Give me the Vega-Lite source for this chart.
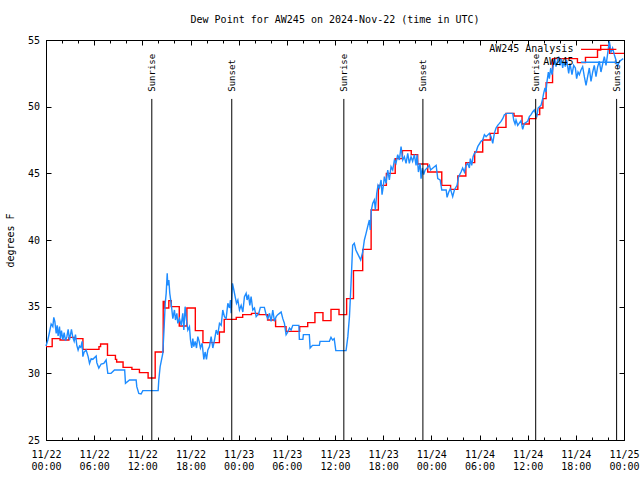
{
  "$schema": "https://vega.github.io/schema/vega-lite/v6.json",
  "width": 578,
  "height": 400,
  "autosize": "none",
  "padding": {"left": 46, "top": 40, "right": 16, "bottom": 40},
  "title": {"text": "Dew Point for AW245 on 2024-Nov-22 (time in UTC)", "offset": 10, "anchor": "middle"},
  "datasets": {
    "sun": [
      {"h": 13.18, "event": "Sunrise"}, {"h": 23.14, "event": "Sunset"},
      {"h": 37.1, "event": "Sunrise"}, {"h": 46.95, "event": "Sunset"},
      {"h": 61.0, "event": "Sunrise"}, {"h": 71.08, "event": "Sunset"}
    ],
    "analysis": [
      {"h":0,"v":32.0},{"h":0.77,"v":32.6},{"h":1.75,"v":32.5},{"h":2.85,"v":32.7},{"h":3.6,"v":32.6},
      {"h":4.6,"v":31.8},{"h":6.6,"v":32.0},{"h":6.8,"v":32.2},{"h":7.66,"v":31.35},{"h":8.65,"v":31.05},
      {"h":8.8,"v":30.85},{"h":9.6,"v":30.45},{"h":10.7,"v":30.3},{"h":11.64,"v":30.05},{"h":12.72,"v":29.65},
      {"h":13.6,"v":31.6},{"h":14.6,"v":35.4},{"h":14.75,"v":34.9},{"h":15.3,"v":35.45},{"h":15.6,"v":35.0},
      {"h":16.6,"v":33.55},{"h":17.55,"v":34.9},{"h":18.6,"v":33.2},{"h":19.55,"v":32.3},{"h":21.6,"v":33.1},
      {"h":22.2,"v":34.05},{"h":23.7,"v":34.2},{"h":24.5,"v":34.4},{"h":25.6,"v":34.5},{"h":26.5,"v":34.4},
      {"h":27.6,"v":34.0},{"h":28.6,"v":33.5},{"h":29.9,"v":33.15},{"h":31.6,"v":33.5},{"h":32.6,"v":33.8},
      {"h":33.5,"v":34.55},{"h":34.5,"v":33.95},{"h":35.5,"v":34.8},{"h":36.5,"v":34.4},{"h":37.45,"v":35.6},
      {"h":38.3,"v":37.7},{"h":39.45,"v":39.3},{"h":40.5,"v":42.25},{"h":41.4,"v":44.1},{"h":42.4,"v":45.0},
      {"h":43.5,"v":46.1},{"h":44.4,"v":46.7},{"h":45.5,"v":46.4},{"h":46.3,"v":45.7},{"h":47.55,"v":45.1},
      {"h":49.3,"v":44.1},{"h":50.4,"v":43.8},{"h":51.3,"v":44.8},{"h":52.3,"v":45.8},{"h":53.4,"v":46.6},
      {"h":54.4,"v":47.5},{"h":55.35,"v":48.0},{"h":56.3,"v":48.45},{"h":57.3,"v":49.5},{"h":58.3,"v":49.3},
      {"h":59.3,"v":48.7},{"h":60.2,"v":49.1},{"h":61.04,"v":49.4},{"h":61.5,"v":49.9},{"h":61.9,"v":50.6},
      {"h":62.3,"v":51.8},{"h":63.1,"v":53.6},{"h":66.2,"v":53.3},{"h":67.2,"v":53.7},{"h":68.7,"v":54.25},
      {"h":69.1,"v":54.6},{"h":70.2,"v":54.0},{"h":72,"v":54.0}
    ],
    "obs": [
      {"h":0,"v":32.05},{"h":0.23,"v":32.5},{"h":0.44,"v":33.1},{"h":0.64,"v":33.7},{"h":0.85,"v":33.5},
      {"h":0.97,"v":34.2},{"h":1.1,"v":33.9},{"h":1.27,"v":33.0},{"h":1.39,"v":33.6},{"h":1.51,"v":32.8},
      {"h":1.68,"v":33.5},{"h":1.8,"v":32.6},{"h":1.93,"v":33.2},{"h":2.1,"v":32.5},{"h":2.26,"v":33.05},
      {"h":2.43,"v":32.45},{"h":2.6,"v":32.75},{"h":2.76,"v":33.3},{"h":2.93,"v":32.5},{"h":3.17,"v":33.3},
      {"h":3.34,"v":32.7},{"h":3.51,"v":32.4},{"h":3.67,"v":32.9},{"h":3.84,"v":32.1},{"h":4.0,"v":31.75},
      {"h":4.17,"v":32.05},{"h":4.34,"v":31.95},{"h":4.5,"v":32.4},{"h":4.59,"v":31.25},{"h":4.75,"v":31.6},
      {"h":5.0,"v":31.75},{"h":5.25,"v":31.25},{"h":5.42,"v":30.75},{"h":5.63,"v":31.1},{"h":5.83,"v":31.05},
      {"h":6.25,"v":31.3},{"h":6.33,"v":30.8},{"h":6.58,"v":30.4},{"h":6.87,"v":30.7},{"h":7.2,"v":30.75},
      {"h":7.49,"v":31.0},{"h":7.7,"v":30.0},{"h":8.1,"v":30.0},{"h":8.53,"v":30.25},{"h":9.8,"v":30.25},
      {"h":9.9,"v":29.25},{"h":10.4,"v":29.5},{"h":11.23,"v":29.5},{"h":11.31,"v":29.0},{"h":11.56,"v":28.5},
      {"h":11.85,"v":28.45},{"h":12.06,"v":28.7},{"h":13.97,"v":28.7},{"h":14.05,"v":29.5},{"h":14.22,"v":30.5},
      {"h":14.55,"v":31.5},{"h":14.72,"v":33.5},{"h":14.85,"v":35.25},{"h":14.97,"v":36.0},{"h":15.1,"v":37.5},
      {"h":15.17,"v":36.6},{"h":15.3,"v":37.0},{"h":15.42,"v":36.0},{"h":15.59,"v":35.25},{"h":15.8,"v":34.1},
      {"h":16.0,"v":34.75},{"h":16.13,"v":34.0},{"h":16.3,"v":34.5},{"h":16.42,"v":33.75},{"h":16.63,"v":34.1},
      {"h":16.84,"v":33.6},{"h":17.04,"v":34.5},{"h":17.17,"v":33.25},{"h":17.33,"v":35.0},{"h":17.5,"v":34.0},
      {"h":17.67,"v":33.25},{"h":17.87,"v":33.5},{"h":18.0,"v":32.5},{"h":18.16,"v":31.9},{"h":18.29,"v":32.6},
      {"h":18.41,"v":32.0},{"h":18.58,"v":32.4},{"h":18.75,"v":31.9},{"h":18.91,"v":32.75},{"h":19.08,"v":32.4},
      {"h":19.24,"v":31.9},{"h":19.45,"v":32.25},{"h":19.66,"v":31.05},{"h":19.82,"v":31.6},{"h":19.99,"v":31.05},
      {"h":20.16,"v":31.75},{"h":20.36,"v":32.0},{"h":20.57,"v":32.75},{"h":20.78,"v":31.9},{"h":20.99,"v":32.5},
      {"h":21.2,"v":33.25},{"h":21.4,"v":32.9},{"h":21.61,"v":33.75},{"h":21.82,"v":33.6},{"h":22.02,"v":34.75},
      {"h":22.23,"v":34.25},{"h":22.44,"v":34.1},{"h":22.65,"v":35.25},{"h":22.85,"v":34.9},{"h":22.98,"v":35.5},
      {"h":23.06,"v":34.5},{"h":23.23,"v":36.75},{"h":23.4,"v":36.25},{"h":23.56,"v":35.75},{"h":23.73,"v":35.25},
      {"h":23.9,"v":35.5},{"h":24.1,"v":34.75},{"h":24.31,"v":35.1},{"h":24.52,"v":34.6},{"h":24.72,"v":35.75},
      {"h":24.93,"v":36.0},{"h":25.05,"v":35.5},{"h":25.22,"v":35.9},{"h":25.39,"v":35.1},{"h":25.55,"v":35.75},
      {"h":25.76,"v":34.75},{"h":25.97,"v":34.9},{"h":26.18,"v":34.25},{"h":26.5,"v":34.5},{"h":26.7,"v":34.95},
      {"h":27.2,"v":34.95},{"h":27.42,"v":34.4},{"h":27.63,"v":34.1},{"h":27.84,"v":34.5},{"h":28.04,"v":33.9},
      {"h":28.25,"v":34.75},{"h":28.46,"v":33.9},{"h":28.67,"v":34.25},{"h":28.87,"v":34.4},{"h":29.08,"v":34.5},
      {"h":29.29,"v":34.6},{"h":29.5,"v":34.1},{"h":29.7,"v":33.75},{"h":29.91,"v":32.9},{"h":30.12,"v":33.1},
      {"h":30.33,"v":33.4},{"h":30.53,"v":33.25},{"h":30.74,"v":33.6},{"h":31.5,"v":33.6},{"h":31.56,"v":32.55},
      {"h":32.0,"v":32.55},{"h":32.06,"v":32.9},{"h":32.8,"v":32.9},{"h":32.9,"v":31.9},{"h":33.2,"v":32.1},
      {"h":34.05,"v":32.1},{"h":34.14,"v":32.4},{"h":35.3,"v":32.4},{"h":35.5,"v":32.7},{"h":35.7,"v":32.5},
      {"h":35.9,"v":32.6},{"h":36.1,"v":31.7},{"h":37.38,"v":31.7},{"h":37.6,"v":32.75},{"h":37.8,"v":34.25},
      {"h":38.0,"v":36.75},{"h":38.2,"v":39.6},{"h":38.4,"v":39.75},{"h":38.6,"v":39.25},{"h":38.8,"v":39.0},
      {"h":39.0,"v":38.75},{"h":39.2,"v":38.5},{"h":39.45,"v":39.1},{"h":39.66,"v":40.0},{"h":39.87,"v":40.5},
      {"h":40.07,"v":41.0},{"h":40.28,"v":41.5},{"h":40.4,"v":40.75},{"h":40.53,"v":42.25},{"h":40.7,"v":42.75},
      {"h":40.9,"v":43.0},{"h":41.03,"v":42.25},{"h":41.2,"v":43.5},{"h":41.36,"v":44.1},{"h":41.53,"v":43.9},
      {"h":41.74,"v":44.5},{"h":41.86,"v":43.4},{"h":42.03,"v":44.1},{"h":42.15,"v":44.75},{"h":42.36,"v":44.25},
      {"h":42.57,"v":45.25},{"h":42.77,"v":44.5},{"h":42.98,"v":45.5},{"h":43.19,"v":45.25},{"h":43.4,"v":46.0},
      {"h":43.6,"v":45.75},{"h":43.81,"v":46.4},{"h":44.02,"v":46.0},{"h":44.23,"v":47.0},{"h":44.44,"v":46.0},
      {"h":44.64,"v":46.25},{"h":44.85,"v":45.75},{"h":45.06,"v":46.5},{"h":45.26,"v":45.75},{"h":45.47,"v":46.25},
      {"h":45.67,"v":45.9},{"h":45.88,"v":46.4},{"h":46.1,"v":45.6},{"h":46.22,"v":46.4},{"h":46.39,"v":45.1},
      {"h":46.6,"v":45.75},{"h":46.72,"v":44.6},{"h":46.89,"v":45.4},{"h":47.05,"v":44.9},{"h":47.22,"v":45.25},
      {"h":47.47,"v":45.4},{"h":47.76,"v":45.6},{"h":47.9,"v":45.25},{"h":48.6,"v":45.6},{"h":48.8,"v":44.6},
      {"h":49.1,"v":44.5},{"h":49.3,"v":43.75},{"h":49.85,"v":43.75},{"h":49.96,"v":43.2},{"h":50.17,"v":43.6},
      {"h":50.37,"v":43.85},{"h":50.66,"v":43.25},{"h":50.87,"v":43.75},{"h":51.2,"v":44.1},{"h":51.4,"v":44.75},
      {"h":51.7,"v":45.1},{"h":51.9,"v":45.4},{"h":52.12,"v":45.1},{"h":52.32,"v":45.6},{"h":52.53,"v":45.75},
      {"h":52.74,"v":45.4},{"h":52.86,"v":46.1},{"h":53.03,"v":45.6},{"h":53.2,"v":46.25},{"h":53.36,"v":46.5},
      {"h":53.57,"v":46.6},{"h":53.78,"v":47.0},{"h":54.19,"v":47.4},{"h":54.4,"v":47.5},{"h":54.61,"v":47.9},
      {"h":54.82,"v":47.75},{"h":55.23,"v":48.0},{"h":55.44,"v":47.75},{"h":55.65,"v":47.25},{"h":55.85,"v":48.0},
      {"h":56.06,"v":48.4},{"h":56.27,"v":48.6},{"h":56.48,"v":48.75},{"h":56.68,"v":48.9},{"h":56.89,"v":49.1},
      {"h":57.1,"v":49.4},{"h":57.43,"v":49.5},{"h":58.14,"v":49.5},{"h":58.26,"v":49.0},{"h":58.43,"v":48.7},
      {"h":58.55,"v":49.0},{"h":58.76,"v":48.6},{"h":59.17,"v":48.95},{"h":59.38,"v":48.3},{"h":59.59,"v":48.75},
      {"h":60.0,"v":48.9},{"h":60.21,"v":49.25},{"h":60.42,"v":49.4},{"h":60.62,"v":49.6},{"h":60.83,"v":49.75},
      {"h":61.04,"v":49.4},{"h":61.12,"v":49.2},{"h":61.3,"v":49.9},{"h":61.66,"v":50.1},{"h":61.87,"v":50.6},
      {"h":61.99,"v":51.0},{"h":62.16,"v":51.4},{"h":62.28,"v":51.1},{"h":62.41,"v":51.9},{"h":62.58,"v":52.6},
      {"h":62.7,"v":52.1},{"h":62.87,"v":52.9},{"h":63.03,"v":52.4},{"h":63.2,"v":53.1},{"h":63.36,"v":53.6},
      {"h":63.53,"v":53.0},{"h":63.74,"v":53.5},{"h":63.86,"v":53.75},{"h":64.03,"v":53.1},{"h":64.2,"v":53.6},
      {"h":64.36,"v":52.9},{"h":64.49,"v":53.4},{"h":64.69,"v":53.0},{"h":64.86,"v":53.5},{"h":65.11,"v":52.5},
      {"h":65.27,"v":53.25},{"h":65.52,"v":52.4},{"h":65.73,"v":53.1},{"h":65.94,"v":52.9},{"h":66.1,"v":52.1},
      {"h":66.27,"v":52.6},{"h":66.44,"v":52.4},{"h":66.64,"v":52.75},{"h":66.85,"v":53.0},{"h":67.06,"v":52.25},
      {"h":67.27,"v":51.6},{"h":67.47,"v":52.25},{"h":67.68,"v":52.9},{"h":67.89,"v":51.9},{"h":68.1,"v":52.6},
      {"h":68.3,"v":53.1},{"h":68.51,"v":52.25},{"h":68.72,"v":53.0},{"h":68.93,"v":53.4},{"h":69.13,"v":52.6},
      {"h":69.34,"v":53.2},{"h":69.55,"v":53.75},{"h":69.76,"v":53.1},{"h":69.97,"v":54.0},{"h":70.17,"v":54.9},
      {"h":70.38,"v":54.1},{"h":70.58,"v":54.4},{"h":70.79,"v":53.9},{"h":71.0,"v":53.5},{"h":71.21,"v":53.0},
      {"h":71.42,"v":53.4},{"h":71.9,"v":53.6}
    ]
  },
  "layer": [
    {
      "data": {"name": "analysis"},
      "mark": {"type": "line", "interpolate": "step-after", "color": "#ff0000", "strokeWidth": 1.4},
      "encoding": {
        "x": {"field": "h", "type": "quantitative",
          "scale": {"domain": [0, 72], "nice": false, "zero": false},
          "axis": {"orient": "top", "title": null, "labels": false,
            "values": [0,2,4,6,8,10,12,14,16,18,20,22,24,26,28,30,32,34,36,38,40,42,44,46,48,50,52,54,56,58,60,62,64,66,68,70,72],
            "tickSize": {"condition": {"test": "datum.value % 6 === 0", "value": -5}, "value": -3}}},
        "y": {"field": "v", "type": "quantitative",
          "scale": {"domain": [25, 55], "nice": false, "zero": false},
          "axis": {"orient": "right", "title": null, "labels": false, "values": [25,30,35,40,45,50,55], "tickSize": -5}}
      }
    },
    {
      "data": {"name": "obs"},
      "mark": {"type": "line", "color": "#1e8cff", "strokeWidth": 1.4},
      "encoding": {
        "x": {"field": "h", "type": "quantitative", "scale": {"domain": [0, 72], "nice": false, "zero": false}, "axis": null},
        "y": {"field": "v", "type": "quantitative", "scale": {"domain": [25, 55], "nice": false, "zero": false}, "axis": null}
      }
    },
    {
      "data": {"name": "sun"},
      "mark": {"type": "text", "angle": 270, "align": "left", "baseline": "middle", "fontSize": 9, "font": "DejaVu Sans Mono", "color": "black"},
      "encoding": {
        "x": {"field": "h", "type": "quantitative", "scale": {"domain": [0, 72], "nice": false, "zero": false}, "axis": null},
        "y": {"datum": 51.12, "type": "quantitative", "scale": {"domain": [25, 55], "nice": false, "zero": false}, "axis": null},
        "text": {"field": "event"}
      }
    },
    {
      "data": {"values": [{"series": "AW245 Analysis"}]},
      "mark": {"type": "rule", "color": "#ff0000", "strokeWidth": 1.4},
      "encoding": {
        "x": {"datum": 66.65, "type": "quantitative", "scale": {"domain": [0, 72], "nice": false, "zero": false}, "axis": null},
        "x2": {"datum": 71.05},
        "y": {"datum": 54.3, "type": "quantitative", "scale": {"domain": [25, 55], "nice": false, "zero": false}, "axis": null}
      }
    },
    {
      "data": {"values": [{"series": "AW245 Analysis"}]},
      "mark": {"type": "text", "align": "right", "baseline": "middle", "fontSize": 10, "font": "DejaVu Sans Mono", "color": "black"},
      "encoding": {
        "x": {"datum": 65.7, "type": "quantitative", "scale": {"domain": [0, 72], "nice": false, "zero": false}, "axis": null},
        "y": {"datum": 54.3, "type": "quantitative", "scale": {"domain": [25, 55], "nice": false, "zero": false}, "axis": null},
        "text": {"field": "series"}
      }
    },
    {
      "data": {"values": [{"series": "AW245"}]},
      "mark": {"type": "rule", "color": "#1e8cff", "strokeWidth": 1.4},
      "encoding": {
        "x": {"datum": 66.65, "type": "quantitative", "scale": {"domain": [0, 72], "nice": false, "zero": false}, "axis": null},
        "x2": {"datum": 71.05},
        "y": {"datum": 53.33, "type": "quantitative", "scale": {"domain": [25, 55], "nice": false, "zero": false}, "axis": null}
      }
    },
    {
      "data": {"values": [{"series": "AW245"}]},
      "mark": {"type": "text", "align": "right", "baseline": "middle", "fontSize": 10, "font": "DejaVu Sans Mono", "color": "black"},
      "encoding": {
        "x": {"datum": 65.7, "type": "quantitative", "scale": {"domain": [0, 72], "nice": false, "zero": false}, "axis": null},
        "y": {"datum": 53.33, "type": "quantitative", "scale": {"domain": [25, 55], "nice": false, "zero": false}, "axis": null},
        "text": {"field": "series"}
      }
    },
    {
      "data": {"name": "sun"},
      "mark": {"type": "rule", "color": "black", "strokeWidth": 1},
      "encoding": {
        "x": {"field": "h", "type": "quantitative",
          "scale": {"domain": [0, 72], "nice": false, "zero": false},
          "axis": {"orient": "bottom", "title": null,
            "values": [0,2,4,6,8,10,12,14,16,18,20,22,24,26,28,30,32,34,36,38,40,42,44,46,48,50,52,54,56,58,60,62,64,66,68,70,72],
            "labelExpr": "datum.value % 6 === 0 ? ['11/' + (22 + floor(datum.value / 24)), ((datum.value % 24) < 10 ? '0' : '') + (datum.value % 24) + ':00'] : ''",
            "tickSize": {"condition": {"test": "datum.value % 6 === 0", "value": -5}, "value": -3},
            "labelPadding": 14, "labelBaseline": "top", "labelLineHeight": 12,
            "labelFlush": false, "labelOverlap": false}},
        "y": {"datum": 50.58, "type": "quantitative",
          "scale": {"domain": [25, 55], "nice": false, "zero": false},
          "axis": {"orient": "left", "title": "degrees F", "values": [25,30,35,40,45,50,55],
            "tickSize": -5, "labelPadding": 11.5, "titlePadding": 12, "labelFlush": false}},
        "y2": {"datum": 25}
      }
    }
  ],
  "resolve": {"scale": {"x": "independent", "y": "independent"}},
  "config": {
    "font": "DejaVu Sans Mono",
    "view": {"stroke": "black", "strokeWidth": 1},
    "axis": {"grid": false, "domainColor": "black", "domainWidth": 1, "tickColor": "black", "tickWidth": 1,
      "labelColor": "black", "labelFontSize": 10, "labelFont": "DejaVu Sans Mono",
      "titleColor": "black", "titleFontSize": 10, "titleFont": "DejaVu Sans Mono", "titleFontWeight": "normal"},
    "title": {"font": "DejaVu Sans Mono", "fontSize": 10, "fontWeight": "normal", "color": "black"}
  }
}
